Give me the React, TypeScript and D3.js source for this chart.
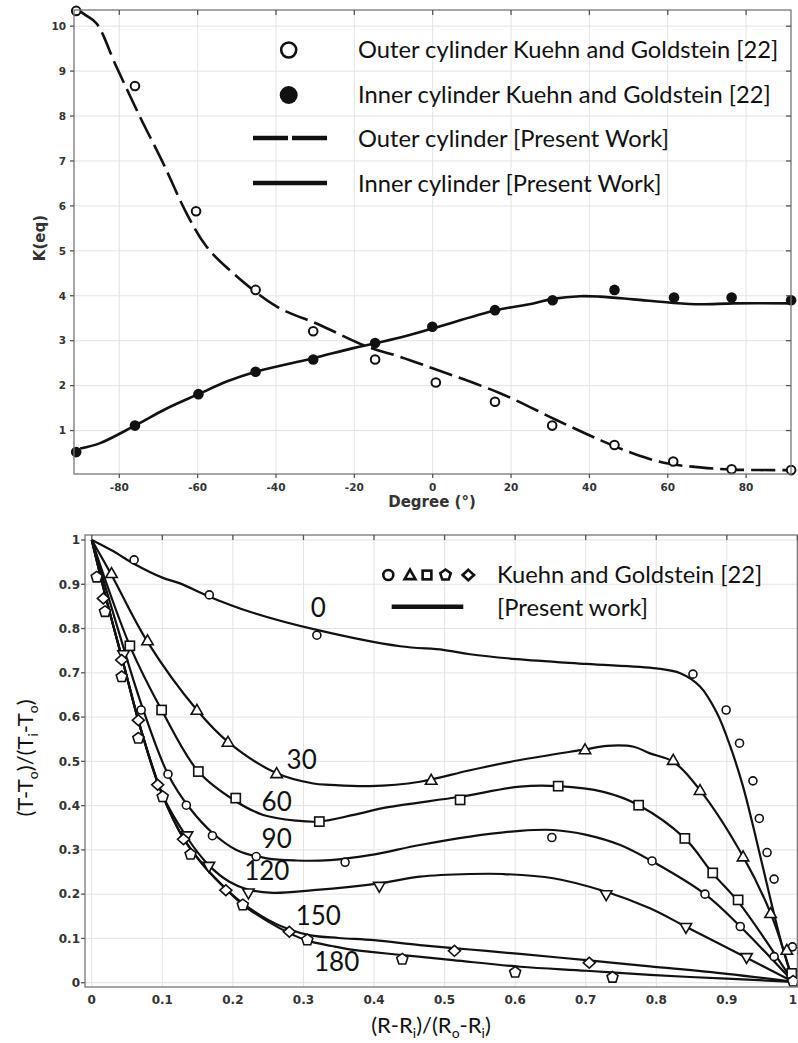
import React from 'react';
import * as d3 from 'd3';

// ---------- Upper panel: K(eq) vs angle ----------
const degreeTicks = [-80, -60, -40, -20, 0, 20, 40, 60, 80];
const kTicks = [1, 2, 3, 4, 5, 6, 7, 8, 9, 10];

const outerExp: [number, number][] = [
  [-91, 10.34], [-76, 8.67], [-60.4, 5.88], [-45.2, 4.13], [-30.5, 3.21], [-14.7, 2.58],
  [0.8, 2.07], [15.9, 1.64], [30.5, 1.11], [46.4, 0.68], [61.4, 0.31], [76.3, 0.14], [91.5, 0.12],
];
const innerExp: [number, number][] = [
  [-91, 0.52], [-76, 1.11], [-59.8, 1.81], [-45.2, 2.31], [-30.5, 2.58], [-14.7, 2.95],
  [-0.1, 3.31], [15.9, 3.68], [30.6, 3.9], [46.4, 4.13], [61.6, 3.96], [76.3, 3.96], [91.5, 3.9],
];
const outerModel: [number, number][] = [
  [-90, 10.33], [-88.5, 10.24], [-85.8, 10.06], [-80.7, 9.09], [-74.7, 7.98], [-68.8, 6.95],
  [-62.8, 5.83], [-57.7, 5.09], [-50.9, 4.5], [-39.8, 3.76], [-28.8, 3.35], [-16.8, 2.87],
  [-8.3, 2.64], [0.15, 2.38], [17.2, 1.83], [31.7, 1.23], [42.7, 0.79], [51.2, 0.49],
  [59.7, 0.27], [68.3, 0.18], [76.7, 0.13], [91.5, 0.12],
];
const innerModel: [number, number][] = [
  [-90, 0.6], [-84.9, 0.72], [-76, 1.11], [-67.9, 1.49], [-59.8, 1.81], [-52.6, 2.09],
  [-45.2, 2.31], [-38.1, 2.46], [-30.5, 2.61], [-20, 2.84], [-8.3, 3.07], [0, 3.27],
  [15.9, 3.67], [25.7, 3.83], [30.6, 3.93], [37.6, 3.99], [42.7, 3.98], [51.2, 3.92],
  [61.4, 3.84], [68.3, 3.81], [76.7, 3.83], [91.5, 3.83],
];
const topLegend = [
  'Outer cylinder Kuehn and Goldstein [22]',
  'Inner cylinder Kuehn and Goldstein [22]',
  'Outer cylinder [Present Work]',
  'Inner cylinder [Present Work]',
];

// ---------- Lower panel: dimensionless temperature profiles ----------
const radialTicks = [0, 0.1, 0.2, 0.3, 0.4, 0.5, 0.6, 0.7, 0.8, 0.9, 1];
const thetaTicks = [0, 0.1, 0.2, 0.3, 0.4, 0.5, 0.6, 0.7, 0.8, 0.9, 1];

const model0: [number, number][] = [
  [0, 1], [0.03, 0.975], [0.059, 0.947], [0.1, 0.915], [0.125, 0.902], [0.1666, 0.872],
  [0.224, 0.838], [0.319, 0.797], [0.437, 0.76], [0.498, 0.752], [0.536, 0.742], [0.602, 0.731],
  [0.701, 0.72], [0.8, 0.71], [0.834, 0.699], [0.862, 0.669], [0.886, 0.609], [0.905, 0.533],
  [0.923, 0.443], [0.942, 0.322], [0.961, 0.194], [0.98, 0.074], [0.994, 0.002],
];
const model30: [number, number][] = [
  [0, 1], [0.028, 0.921], [0.079, 0.77], [0.149, 0.616], [0.193, 0.544], [0.262, 0.473],
  [0.314, 0.45], [0.338, 0.447], [0.394, 0.444], [0.465, 0.454], [0.536, 0.48], [0.607, 0.503],
  [0.699, 0.527], [0.73, 0.535], [0.768, 0.533], [0.791, 0.518], [0.824, 0.499], [0.862, 0.435],
  [0.923, 0.285], [0.962, 0.157], [0.994, 0.002],
];
const model60: [number, number][] = [
  [0, 1], [0.054, 0.761], [0.099, 0.616], [0.151, 0.477], [0.204, 0.41], [0.243, 0.379],
  [0.29, 0.366], [0.3225, 0.364], [0.371, 0.379], [0.418, 0.396], [0.522, 0.42], [0.607, 0.443],
  [0.661, 0.444], [0.725, 0.431], [0.775, 0.401], [0.8405, 0.326], [0.88, 0.247], [0.916, 0.183],
  [0.994, 0.002],
];
const model90: [number, number][] = [
  [0, 1], [0.035, 0.81], [0.07, 0.63], [0.108, 0.471], [0.139, 0.394], [0.172, 0.337],
  [0.205, 0.3], [0.248, 0.281], [0.29, 0.276], [0.338, 0.277], [0.394, 0.288], [0.465, 0.311],
  [0.536, 0.33], [0.607, 0.343], [0.654, 0.345], [0.701, 0.334], [0.749, 0.311], [0.791, 0.277],
  [0.869, 0.2], [0.919, 0.127], [0.994, 0.002],
];
const model120: [number, number][] = [
  [0, 1], [0.02, 0.87], [0.045, 0.72], [0.07, 0.57], [0.1, 0.425], [0.135, 0.328],
  [0.166, 0.265], [0.195, 0.228], [0.222, 0.21], [0.257, 0.203], [0.314, 0.209], [0.4075, 0.2245],
  [0.465, 0.2395], [0.536, 0.2455], [0.583, 0.2455], [0.654, 0.236], [0.729, 0.2055],
  [0.791, 0.168], [0.842, 0.1265], [0.928, 0.0565], [0.994, 0.002],
];
const model150: [number, number][] = [
  [0, 1], [0.02, 0.87], [0.045, 0.72], [0.07, 0.57], [0.1, 0.425], [0.13, 0.326],
  [0.16, 0.262], [0.19, 0.212], [0.215, 0.178], [0.25, 0.142], [0.28, 0.12], [0.31, 0.107],
  [0.35, 0.101], [0.4, 0.096], [0.465, 0.085], [0.536, 0.075], [0.607, 0.065], [0.701, 0.051],
  [0.791, 0.037], [0.9, 0.02], [0.994, 0.002],
];
const model180: [number, number][] = [
  [0, 1], [0.02, 0.87], [0.045, 0.72], [0.07, 0.57], [0.1, 0.425], [0.13, 0.326],
  [0.16, 0.262], [0.19, 0.212], [0.214, 0.176], [0.25, 0.138], [0.28, 0.112], [0.3055, 0.095],
  [0.34, 0.083], [0.371, 0.074], [0.44, 0.0625], [0.512, 0.051], [0.607, 0.036], [0.701, 0.027],
  [0.791, 0.0175], [0.9, 0.009], [0.994, 0.002],
];

const exp0: [number, number][] = [
  [0.06, 0.955], [0.1666, 0.876], [0.319, 0.785], [0.852, 0.697], [0.899, 0.616], [0.918, 0.541],
  [0.937, 0.456], [0.946, 0.371], [0.957, 0.294], [0.967, 0.234], [0.993, 0.081],
];
const exp30: [number, number][] = [
  [0.028, 0.925], [0.079, 0.773], [0.149, 0.616], [0.193, 0.544], [0.262, 0.473], [0.481, 0.458],
  [0.699, 0.527], [0.824, 0.503], [0.862, 0.435], [0.923, 0.285], [0.962, 0.157], [0.985, 0.074],
];
const exp60: [number, number][] = [
  [0.054, 0.761], [0.099, 0.616], [0.151, 0.477], [0.204, 0.417], [0.3225, 0.364], [0.522, 0.413],
  [0.661, 0.444], [0.775, 0.401], [0.8405, 0.326], [0.88, 0.248], [0.916, 0.187], [0.992, 0.021],
];
const exp90: [number, number][] = [
  [0.07, 0.616], [0.108, 0.471], [0.134, 0.401], [0.171, 0.332], [0.233, 0.285], [0.359, 0.272],
  [0.652, 0.328], [0.794, 0.275], [0.869, 0.2], [0.919, 0.127], [0.967, 0.059],
];
const exp120: [number, number][] = [
  [0.045, 0.74], [0.135, 0.331], [0.166, 0.262], [0.222, 0.202], [0.4075, 0.217], [0.729, 0.198],
  [0.842, 0.124], [0.928, 0.056],
];
const exp150: [number, number][] = [
  [0.0164, 0.868], [0.0424, 0.729], [0.066, 0.593], [0.0934, 0.447], [0.13, 0.324], [0.19, 0.209],
  [0.28, 0.115], [0.514, 0.072], [0.705, 0.045],
];
const exp180: [number, number][] = [
  [0.007, 0.916], [0.0187, 0.838], [0.0424, 0.691], [0.066, 0.552], [0.1005, 0.42], [0.14, 0.29],
  [0.214, 0.1755], [0.3055, 0.0965], [0.44, 0.053], [0.6, 0.0235], [0.738, 0.012], [0.994, 0.003],
];

const angleLabels = ['0', '30', '60', '90', '120', '150', '180'];
const angleLabelPos: [number, number][] = [
  [0.321, 0.846], [0.2975, 0.503], [0.262, 0.409], [0.262, 0.324], [0.248, 0.252], [0.321, 0.151], [0.347, 0.046],
];

type Shape = 'circle' | 'triUp' | 'square' | 'triDown' | 'pentagon' | 'diamond';

const W = 798;
const H = 1043;
const LEGEND_FONT = 'Lato, "Open Sans", sans-serif';
const AXIS_FONT = '"DejaVu Sans", sans-serif';

function regular(cx: number, cy: number, r: number, n: number, rot: number) {
  const pts: string[] = [];
  for (let i = 0; i < n; i++) {
    const a = rot + (i * 2 * Math.PI) / n;
    pts.push(`${(cx + r * Math.cos(a)).toFixed(2)},${(cy + r * Math.sin(a)).toFixed(2)}`);
  }
  return pts.join(' ');
}

function Marker({ shape, cx, cy, sw = 1.6, scale = 1 }: { shape: Shape; cx: number; cy: number; sw?: number; scale?: number }) {
  const common = { fill: '#fff', stroke: '#111', strokeWidth: sw };
  if (shape === 'circle') return <circle cx={cx} cy={cy} r={4 * scale} {...common} />;
  if (shape === 'square') return <rect x={cx - 4.6 * scale} y={cy - 4.6 * scale} width={9.2 * scale} height={9.2 * scale} {...common} />;
  if (shape === 'triUp') return <polygon points={regular(cx, cy + 1 * scale, 6.6 * scale, 3, -Math.PI / 2)} {...common} />;
  if (shape === 'triDown') return <polygon points={regular(cx, cy - 1 * scale, 6.6 * scale, 3, Math.PI / 2)} {...common} />;
  if (shape === 'pentagon') return <polygon points={regular(cx, cy, 5.8 * scale, 5, -Math.PI / 2)} {...common} />;
  const hw = 6 * scale;
  const hh = 5.4 * scale;
  return <polygon points={`${cx},${cy - hh} ${cx + hw},${cy} ${cx},${cy + hh} ${cx - hw},${cy}`} {...common} />;
}

export default function App() {
  // upper panel scales
  const xT = d3.scaleLinear().domain([-91.56, 91.46]).range([74, 791]);
  const yT = d3.scaleLinear().domain([0.033, 10.36]).range([474, 10]);
  const lineT = d3
    .line<[number, number]>()
    .x((d) => xT(d[0]))
    .y((d) => yT(d[1]))
    .curve(d3.curveCatmullRom.alpha(0.5));

  // lower panel scales
  const xB = d3.scaleLinear().domain([-0.0096, 1.0]).range([85, 797.4]);
  const yB = d3.scaleLinear().domain([-0.0097, 1.0113]).range([987, 535]);
  const lineB = d3
    .line<[number, number]>()
    .x((d) => xB(d[0]))
    .y((d) => yB(d[1]))
    .curve(d3.curveCatmullRom.alpha(0.5));

  const [tx0, tx1] = xT.range();
  const [ty0, ty1] = yT.range();
  const [bx0, bx1] = xB.range();
  const [by0, by1] = yB.range();

  const models = [model0, model30, model60, model90, model120, model150, model180];
  const expSets: { data: [number, number][]; shape: Shape }[] = [
    { data: exp0, shape: 'circle' },
    { data: exp30, shape: 'triUp' },
    { data: exp60, shape: 'square' },
    { data: exp90, shape: 'circle' },
    { data: exp120, shape: 'triDown' },
    { data: exp150, shape: 'diamond' },
    { data: exp180, shape: 'pentagon' },
  ];
  const legendShapes: Shape[] = ['circle', 'triUp', 'square', 'pentagon', 'diamond'];
  const legendShapeX = [388.3, 410, 427, 445.5, 468.3];
  const lastRadial = radialTicks[radialTicks.length - 1];

  return (
    <svg width={W} height={H} style={{ position: 'absolute', left: 0, top: 0, background: '#fff' }}>
      <rect width={W} height={H} fill="#fff" />

      {/* ===== upper panel ===== */}
      <g>
        {degreeTicks.map((t) => (
          <line key={`gx${t}`} x1={xT(t)} x2={xT(t)} y1={ty1} y2={ty0} stroke="#e3e3e3" strokeWidth={1} />
        ))}
        {kTicks.map((t) => (
          <line key={`gy${t}`} x1={tx0} x2={tx1} y1={yT(t)} y2={yT(t)} stroke="#e3e3e3" strokeWidth={1} />
        ))}

        <path d={lineT(outerModel) ?? ''} fill="none" stroke="#111" strokeWidth={2.6} strokeDasharray="24 7" />
        <path d={lineT(innerModel) ?? ''} fill="none" stroke="#111" strokeWidth={2.6} />

        {outerExp.map((d, i) => (
          <circle key={`o${i}`} cx={xT(d[0])} cy={yT(d[1])} r={4.3} fill="#fff" stroke="#111" strokeWidth={2} />
        ))}
        {innerExp.map((d, i) => (
          <circle key={`n${i}`} cx={xT(d[0])} cy={yT(d[1])} r={5.3} fill="#111" />
        ))}

        {/* frame and ticks */}
        <rect x={tx0} y={ty1} width={tx1 - tx0} height={ty0 - ty1} fill="none" stroke="#777" strokeWidth={1.3} />
        {degreeTicks.map((t) => (
          <g key={`tx${t}`}>
            <line x1={xT(t)} x2={xT(t)} y1={ty1} y2={ty1 + 5} stroke="#555" strokeWidth={1.3} />
            <line x1={xT(t)} x2={xT(t)} y1={ty0} y2={ty0 + 4} stroke="#555" strokeWidth={1.3} />
            <text x={xT(t)} y={491} textAnchor="middle" fontFamily={AXIS_FONT} fontWeight="bold" fontSize={10.5} fill="#333">
              {t}
            </text>
          </g>
        ))}
        {kTicks.map((t) => (
          <g key={`ty${t}`}>
            <line x1={tx0 - 4} x2={tx0} y1={yT(t)} y2={yT(t)} stroke="#555" strokeWidth={1.3} />
            <line x1={tx1 - 5} x2={tx1} y1={yT(t)} y2={yT(t)} stroke="#555" strokeWidth={1.3} />
            <text x={66} y={yT(t) + 3.8} textAnchor="end" fontFamily={AXIS_FONT} fontWeight="bold" fontSize={10.5} fill="#333">
              {t}
            </text>
          </g>
        ))}
        <text x={432} y={507} textAnchor="middle" fontFamily={AXIS_FONT} fontWeight="bold" fontSize={15} fill="#333">
          Degree (°)
        </text>
        <text transform="translate(45,238) rotate(-90)" textAnchor="middle" fontFamily={AXIS_FONT} fontWeight="bold" fontSize={15} fill="#333">
          K(eq)
        </text>

        {/* legend */}
        <circle cx={288.7} cy={50} r={7.5} fill="#fff" stroke="#111" strokeWidth={2.6} />
        <circle cx={288.7} cy={95} r={9} fill="#111" />
        <line x1={253} x2={327} y1={138} y2={138} stroke="#111" strokeWidth={4.5} strokeDasharray="35 4" />
        <line x1={253} x2={327} y1={183} y2={183} stroke="#111" strokeWidth={4.5} />
        {topLegend.map((s, i) => (
          <text key={s} x={358} y={58 + i * 44.5} fontFamily={LEGEND_FONT} fontSize={23.7} fill="#111">
            {s}
          </text>
        ))}
      </g>

      {/* ===== lower panel ===== */}
      <g>
        {radialTicks.map((t) => (
          <line key={`bgx${t}`} x1={xB(t)} x2={xB(t)} y1={by1} y2={by0} stroke="#e3e3e3" strokeWidth={1} />
        ))}
        {thetaTicks.map((t) => (
          <line key={`bgy${t}`} x1={bx0} x2={bx1} y1={yB(t)} y2={yB(t)} stroke="#e3e3e3" strokeWidth={1} />
        ))}

        {models.map((m, i) => (
          <path key={`m${i}`} d={lineB(m) ?? ''} fill="none" stroke="#111" strokeWidth={2.2} />
        ))}
        {expSets.map((s, i) =>
          s.data.map((d, j) => <Marker key={`e${i}-${j}`} shape={s.shape} cx={xB(d[0])} cy={yB(d[1])} />)
        )}

        {angleLabels.map((s, i) => (
          <text
            key={`al${s}`}
            x={xB(angleLabelPos[i][0])}
            y={yB(angleLabelPos[i][1]) + 9}
            textAnchor="middle"
            fontFamily={LEGEND_FONT}
            fontSize={26}
            fill="#111"
          >
            {s}
          </text>
        ))}

        {/* frame and ticks */}
        <rect x={bx0} y={by1} width={bx1 - bx0} height={by0 - by1} fill="none" stroke="#777" strokeWidth={1.3} />
        {radialTicks.map((t) => (
          <g key={`btx${t}`}>
            <line x1={xB(t)} x2={xB(t)} y1={by1} y2={by1 + 5} stroke="#555" strokeWidth={1.3} />
            <text
              x={t === lastRadial ? W - 1 : xB(t)}
              y={1003.5}
              textAnchor={t === lastRadial ? 'end' : 'middle'}
              fontFamily={AXIS_FONT}
              fontWeight="bold"
              fontSize={12}
              fill="#333"
            >
              {t}
            </text>
          </g>
        ))}
        {thetaTicks.map((t) => (
          <g key={`bty${t}`}>
            <line x1={bx0 - 4} x2={bx0} y1={yB(t)} y2={yB(t)} stroke="#555" strokeWidth={1.3} />
            <text x={80} y={yB(t) + 4.3} textAnchor="end" fontFamily={AXIS_FONT} fontWeight="bold" fontSize={12} fill="#333">
              {t}
            </text>
          </g>
        ))}

        <text x={431} y={1033} textAnchor="middle" fontFamily={LEGEND_FONT} fontSize={22} fill="#111">
          (R-R<tspan fontSize={14} dy={5}>i</tspan>
          <tspan dy={-5}>)/(R</tspan>
          <tspan fontSize={14} dy={5}>o</tspan>
          <tspan dy={-5}>-R</tspan>
          <tspan fontSize={14} dy={5}>i</tspan>
          <tspan dy={-5}>)</tspan>
        </text>
        <text transform="translate(33,758) rotate(-90)" textAnchor="middle" fontFamily={LEGEND_FONT} fontSize={22} fill="#111">
          (T-T<tspan fontSize={14} dy={5}>o</tspan>
          <tspan dy={-5}>)/(T</tspan>
          <tspan fontSize={14} dy={5}>i</tspan>
          <tspan dy={-5}>-T</tspan>
          <tspan fontSize={14} dy={5}>o</tspan>
          <tspan dy={-5}>)</tspan>
        </text>

        {/* legend */}
        {legendShapes.map((s, i) => (
          <Marker key={`ls${i}`} shape={s} cx={legendShapeX[i]} cy={575} sw={2.6} scale={i === 0 ? 1.25 : 0.95} />
        ))}
        <line x1={391.7} x2={463.3} y1={606.7} y2={606.7} stroke="#111" strokeWidth={4.5} />
        <text x={497} y={583} fontFamily={LEGEND_FONT} fontSize={23.7} fill="#111">
          Kuehn and Goldstein [22]
        </text>
        <text x={497} y={615.5} fontFamily={LEGEND_FONT} fontSize={23.7} fill="#111">
          [Present work]
        </text>
      </g>
    </svg>
  );
}
